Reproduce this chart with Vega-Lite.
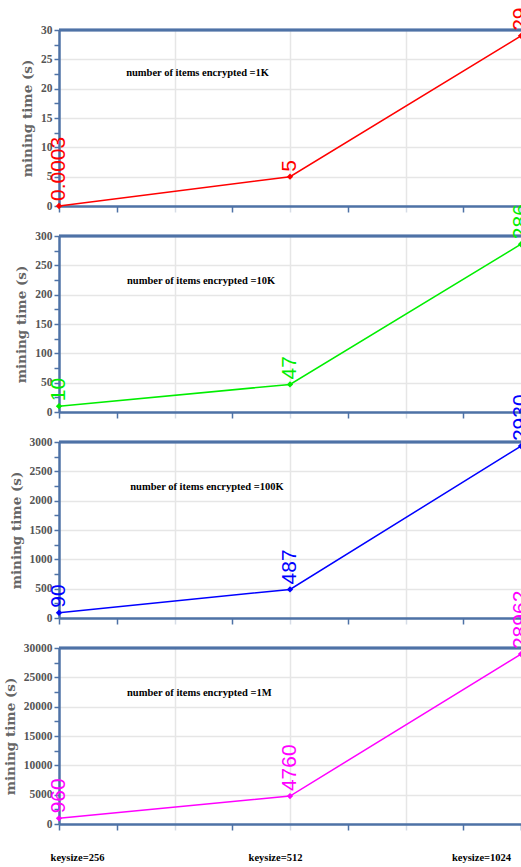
{
  "$schema": "https://vega.github.io/schema/vega-lite/v6.json",
  "padding": {"left": 3, "top": 7, "right": 0, "bottom": 0},
  "background": "white",
  "spacing": 30,
  "bounds": "flush",
  "datasets": {
    "t": [
      {"items": "1K", "keysize": 256, "time": 0.0003, "label": "0.0003"},
      {"items": "1K", "keysize": 512, "time": 5, "label": "5"},
      {"items": "1K", "keysize": 1024, "time": 29, "label": "29"},
      {"items": "10K", "keysize": 256, "time": 10, "label": "10"},
      {"items": "10K", "keysize": 512, "time": 47, "label": "47"},
      {"items": "10K", "keysize": 1024, "time": 286, "label": "286"},
      {"items": "100K", "keysize": 256, "time": 90, "label": "90"},
      {"items": "100K", "keysize": 512, "time": 487, "label": "487"},
      {"items": "100K", "keysize": 1024, "time": 2930, "label": "2930"},
      {"items": "1M", "keysize": 256, "time": 960, "label": "960"},
      {"items": "1M", "keysize": 512, "time": 4760, "label": "4760"},
      {"items": "1M", "keysize": 1024, "time": 28962, "label": "28962"}
    ]
  },
  "vconcat": [
    {
      "width": 462, "height": 176,
      "data": {"name": "t"},
      "transform": [{"filter": "datum.items == '1K'"}],
      "encoding": {
        "x": {"field": "keysize", "type": "quantitative", "scale": {"type": "log", "base": 2, "domain": [256, 1024]},
          "axis": {"title": null, "values": [256, 304.44, 362.04, 430.54, 512, 608.87, 724.08, 861.08, 1024], "labels": false,
            "domainColor": "#4e72a6", "domainWidth": 2.5, "tickWidth": 1.5, "tickSize": 6,
            "tickColor": {"condition": {"test": "indexof([362.04,512,724.08], datum.value) >= 0", "value": "#d6dce6"}, "value": "#4e72a6"},
            "grid": true, "gridColor": "#e6e6e6", "gridWidth": 1.5,
            "gridOpacity": {"condition": {"test": "indexof([362.04,512,724.08], datum.value) >= 0", "value": 1}, "value": 0}}},
        "y": {"field": "time", "type": "quantitative", "scale": {"domain": [0, 30], "nice": false},
          "axis": {"title": "mining time (s)", "values": [0, 2.5, 5, 7.5, 10, 12.5, 15, 17.5, 20, 22.5, 25, 27.5, 30],
            "labelExpr": "datum.value % 5 == 0 ? format(datum.value, 'd') : ''",
            "grid": true, "gridColor": "#e6e6e6", "gridWidth": 1.5,
            "gridOpacity": {"condition": {"test": "datum.value % 5 == 0", "value": 1}, "value": 0},
            "domainColor": "#4e72a6", "domainWidth": 2.5, "tickColor": "#4e72a6", "tickWidth": 1.5, "tickSize": 5,
            "labelFont": "Liberation Serif", "labelFontWeight": "bold", "labelFontSize": 11.5, "labelColor": "#555555", "labelPadding": 2,
            "titleFont": "DejaVu Serif", "titleFontWeight": "bold", "titleFontSize": 13.5, "titleColor": "#666666", "titlePadding": 6}}
      },
      "layer": [
        {"mark": {"type": "rule", "color": "#4e72a6", "strokeWidth": 2.5}, "encoding": {"x": {"datum": 256}, "x2": {"datum": 1024}, "y": {"datum": 30}}},
        {"mark": {"type": "line", "color": "#ff0000", "strokeWidth": 1.5}},
        {"mark": {"type": "point", "shape": "diamond", "filled": true, "color": "#ff0000", "size": 40, "opacity": 1}},
        {"mark": {"type": "text", "angle": 270, "align": "left", "baseline": "middle", "dx": 5, "font": "Liberation Sans", "fontSize": 21, "color": "#ff0000"}, "encoding": {"text": {"field": "label"}}},
        {"data": {"values": [{"items": "1K", "note": "number of items encrypted =1K", "keysize": 388, "time": 22.7}]},
         "mark": {"type": "text", "font": "Liberation Serif", "fontWeight": "bold", "fontSize": 10.5, "color": "black"}, "encoding": {"text": {"field": "note"}}}
      ]
    },
    {
      "width": 462, "height": 176,
      "data": {"name": "t"},
      "transform": [{"filter": "datum.items == '10K'"}],
      "encoding": {
        "x": {"field": "keysize", "type": "quantitative", "scale": {"type": "log", "base": 2, "domain": [256, 1024]},
          "axis": {"title": null, "values": [256, 304.44, 362.04, 430.54, 512, 608.87, 724.08, 861.08, 1024], "labels": false,
            "domainColor": "#4e72a6", "domainWidth": 2.5, "tickWidth": 1.5, "tickSize": 6,
            "tickColor": {"condition": {"test": "indexof([362.04,512,724.08], datum.value) >= 0", "value": "#d6dce6"}, "value": "#4e72a6"},
            "grid": true, "gridColor": "#e6e6e6", "gridWidth": 1.5,
            "gridOpacity": {"condition": {"test": "indexof([362.04,512,724.08], datum.value) >= 0", "value": 1}, "value": 0}}},
        "y": {"field": "time", "type": "quantitative", "scale": {"domain": [0, 300], "nice": false},
          "axis": {"title": "mining time (s)", "values": [0, 25, 50, 75, 100, 125, 150, 175, 200, 225, 250, 275, 300],
            "labelExpr": "datum.value % 50 == 0 ? format(datum.value, 'd') : ''",
            "grid": true, "gridColor": "#e6e6e6", "gridWidth": 1.5,
            "gridOpacity": {"condition": {"test": "datum.value % 50 == 0", "value": 1}, "value": 0},
            "domainColor": "#4e72a6", "domainWidth": 2.5, "tickColor": "#4e72a6", "tickWidth": 1.5, "tickSize": 5,
            "labelFont": "Liberation Serif", "labelFontWeight": "bold", "labelFontSize": 11.5, "labelColor": "#555555", "labelPadding": 2,
            "titleFont": "DejaVu Serif", "titleFontWeight": "bold", "titleFontSize": 13.5, "titleColor": "#666666", "titlePadding": 6}}
      },
      "layer": [
        {"mark": {"type": "rule", "color": "#4e72a6", "strokeWidth": 2.5}, "encoding": {"x": {"datum": 256}, "x2": {"datum": 1024}, "y": {"datum": 300}}},
        {"mark": {"type": "line", "color": "#00ee00", "strokeWidth": 1.5}},
        {"mark": {"type": "point", "shape": "diamond", "filled": true, "color": "#00ee00", "size": 40, "opacity": 1}},
        {"mark": {"type": "text", "angle": 270, "align": "left", "baseline": "middle", "dx": 5, "font": "Liberation Sans", "fontSize": 21, "color": "#00ee00"}, "encoding": {"text": {"field": "label"}}},
        {"data": {"values": [{"items": "10K", "note": "number of items encrypted =10K", "keysize": 392, "time": 223}]},
         "mark": {"type": "text", "font": "Liberation Serif", "fontWeight": "bold", "fontSize": 10.5, "color": "black"}, "encoding": {"text": {"field": "note"}}}
      ]
    },
    {
      "width": 462, "height": 176,
      "data": {"name": "t"},
      "transform": [{"filter": "datum.items == '100K'"}],
      "encoding": {
        "x": {"field": "keysize", "type": "quantitative", "scale": {"type": "log", "base": 2, "domain": [256, 1024]},
          "axis": {"title": null, "values": [256, 304.44, 362.04, 430.54, 512, 608.87, 724.08, 861.08, 1024], "labels": false,
            "domainColor": "#4e72a6", "domainWidth": 2.5, "tickWidth": 1.5, "tickSize": 6,
            "tickColor": {"condition": {"test": "indexof([362.04,512,724.08], datum.value) >= 0", "value": "#d6dce6"}, "value": "#4e72a6"},
            "grid": true, "gridColor": "#e6e6e6", "gridWidth": 1.5,
            "gridOpacity": {"condition": {"test": "indexof([362.04,512,724.08], datum.value) >= 0", "value": 1}, "value": 0}}},
        "y": {"field": "time", "type": "quantitative", "scale": {"domain": [0, 3000], "nice": false},
          "axis": {"title": "mining time (s)", "values": [0, 250, 500, 750, 1000, 1250, 1500, 1750, 2000, 2250, 2500, 2750, 3000],
            "labelExpr": "datum.value % 500 == 0 ? format(datum.value, 'd') : ''",
            "grid": true, "gridColor": "#e6e6e6", "gridWidth": 1.5,
            "gridOpacity": {"condition": {"test": "datum.value % 500 == 0", "value": 1}, "value": 0},
            "domainColor": "#4e72a6", "domainWidth": 2.5, "tickColor": "#4e72a6", "tickWidth": 1.5, "tickSize": 5,
            "labelFont": "Liberation Serif", "labelFontWeight": "bold", "labelFontSize": 11.5, "labelColor": "#555555", "labelPadding": 2,
            "titleFont": "DejaVu Serif", "titleFontWeight": "bold", "titleFontSize": 13.5, "titleColor": "#666666", "titlePadding": 6}}
      },
      "layer": [
        {"mark": {"type": "rule", "color": "#4e72a6", "strokeWidth": 2.5}, "encoding": {"x": {"datum": 256}, "x2": {"datum": 1024}, "y": {"datum": 3000}}},
        {"mark": {"type": "line", "color": "#0000ff", "strokeWidth": 1.5}},
        {"mark": {"type": "point", "shape": "diamond", "filled": true, "color": "#0000ff", "size": 40, "opacity": 1}},
        {"mark": {"type": "text", "angle": 270, "align": "left", "baseline": "middle", "dx": 5, "font": "Liberation Sans", "fontSize": 21, "color": "#0000ff"}, "encoding": {"text": {"field": "label"}}},
        {"data": {"values": [{"items": "100K", "note": "number of items encrypted =100K", "keysize": 399, "time": 2229}]},
         "mark": {"type": "text", "font": "Liberation Serif", "fontWeight": "bold", "fontSize": 10.5, "color": "black"}, "encoding": {"text": {"field": "note"}}}
      ]
    },
    {
      "width": 462, "height": 176,
      "data": {"name": "t"},
      "transform": [{"filter": "datum.items == '1M'"}],
      "encoding": {
        "x": {"field": "keysize", "type": "quantitative", "scale": {"type": "log", "base": 2, "domain": [256, 1024]},
          "axis": {"title": null, "values": [256, 304.44, 362.04, 430.54, 512, 608.87, 724.08, 861.08, 1024],
            "labelExpr": "indexof([256,512,1024], datum.value) >= 0 ? 'keysize=' + datum.value : ''",
            "labelFont": "Liberation Serif", "labelFontWeight": "bold", "labelFontSize": 10.5, "labelColor": "black",
            "labelPadding": 22, "labelOverlap": false, "labelFlush": false, "labelBound": false,
            "labelOffset": {"condition": [{"test": "datum.value == 256", "value": 18}, {"test": "datum.value == 1024", "value": -40}], "value": -15},
            "domainColor": "#4e72a6", "domainWidth": 2.5, "tickWidth": 1.5, "tickSize": 6,
            "tickColor": {"condition": {"test": "indexof([362.04,512,724.08], datum.value) >= 0", "value": "#d6dce6"}, "value": "#4e72a6"},
            "grid": true, "gridColor": "#e6e6e6", "gridWidth": 1.5,
            "gridOpacity": {"condition": {"test": "indexof([362.04,512,724.08], datum.value) >= 0", "value": 1}, "value": 0}}},
        "y": {"field": "time", "type": "quantitative", "scale": {"domain": [0, 30000], "nice": false},
          "axis": {"title": "mining time (s)", "values": [0, 2500, 5000, 7500, 10000, 12500, 15000, 17500, 20000, 22500, 25000, 27500, 30000],
            "labelExpr": "datum.value % 5000 == 0 ? format(datum.value, 'd') : ''",
            "grid": true, "gridColor": "#e6e6e6", "gridWidth": 1.5,
            "gridOpacity": {"condition": {"test": "datum.value % 5000 == 0", "value": 1}, "value": 0},
            "domainColor": "#4e72a6", "domainWidth": 2.5, "tickColor": "#4e72a6", "tickWidth": 1.5, "tickSize": 5,
            "labelFont": "Liberation Serif", "labelFontWeight": "bold", "labelFontSize": 11.5, "labelColor": "#555555", "labelPadding": 2,
            "titleFont": "DejaVu Serif", "titleFontWeight": "bold", "titleFontSize": 13.5, "titleColor": "#666666", "titlePadding": 6}}
      },
      "layer": [
        {"mark": {"type": "rule", "color": "#4e72a6", "strokeWidth": 2.5}, "encoding": {"x": {"datum": 256}, "x2": {"datum": 1024}, "y": {"datum": 30000}}},
        {"mark": {"type": "line", "color": "#ff00ff", "strokeWidth": 1.5}},
        {"mark": {"type": "point", "shape": "diamond", "filled": true, "color": "#ff00ff", "size": 40, "opacity": 1}},
        {"mark": {"type": "text", "angle": 270, "align": "left", "baseline": "middle", "dx": 5, "font": "Liberation Sans", "fontSize": 21, "color": "#ff00ff"}, "encoding": {"text": {"field": "label"}}},
        {"data": {"values": [{"items": "1M", "note": "number of items encrypted =1M", "keysize": 390, "time": 22330}]},
         "mark": {"type": "text", "font": "Liberation Serif", "fontWeight": "bold", "fontSize": 10.5, "color": "black"}, "encoding": {"text": {"field": "note"}}}
      ]
    }
  ],
  "config": {"view": {"stroke": null}, "font": "Liberation Serif"}
}
